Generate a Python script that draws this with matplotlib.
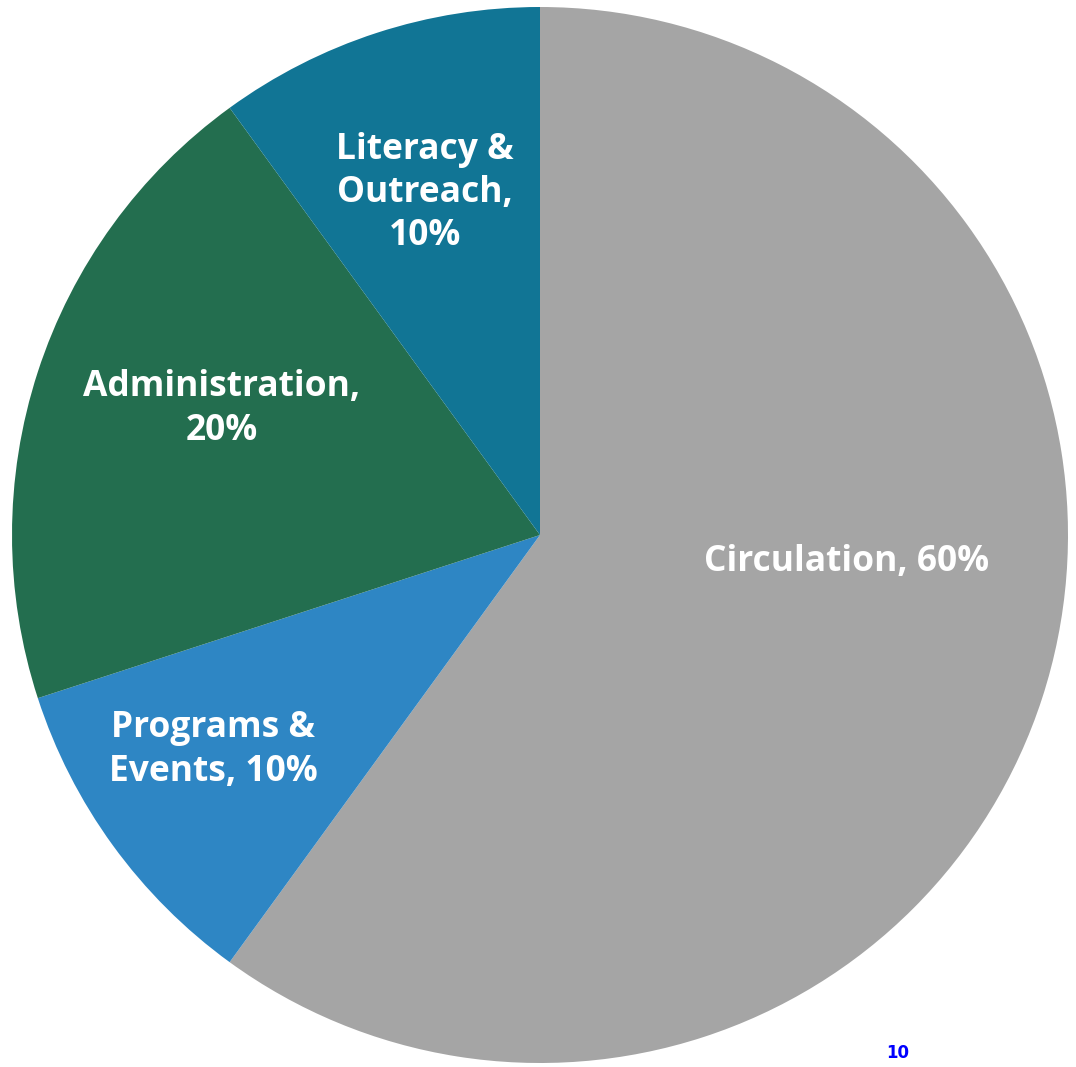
import matplotlib
matplotlib.use("Agg")
import matplotlib.pyplot as plt

categories = ["Circulation", "Programs & Events", "Administration", "Literacy & Outreach"]
values = [60, 10, 20, 10]
label_texts = ["Circulation, 60%", "Programs &\nEvents, 10%", "Administration,\n20%", "Literacy &\nOutreach,\n10%"]
colors = ["#A5A5A5", "#2E86C4", "#236E4F", "#117595"]
label_pos = [(847, 562), (213, 750), (222, 409), (425, 193)]  # pixel positions (from top)

W, H = 1076, 1067
fig = plt.figure(figsize=(W / 100, H / 100), dpi=100)
ax = fig.add_axes([0, 0, 1, 1])

wedges, _ = ax.pie(values, colors=colors, startangle=90, counterclock=False,
                   center=(540, H - 535), radius=528, frame=True,
                   wedgeprops=dict(linewidth=0))
ax.set_xlim(0, W)
ax.set_ylim(0, H)
ax.set_aspect("equal")
ax.axis("off")

for txt, (x, y) in zip(label_texts, label_pos):
    ax.text(x, H - y, txt, ha="center", va="center", color="white",
            fontsize=25.5, fontweight="bold", family="Open Sans", linespacing=1.27)

ax.text(898, H - 1053, "10", ha="center", va="center", color="#0000FF",
        fontsize=12, fontweight="bold", family="DejaVu Sans")

fig.savefig("out.png", dpi=100)
